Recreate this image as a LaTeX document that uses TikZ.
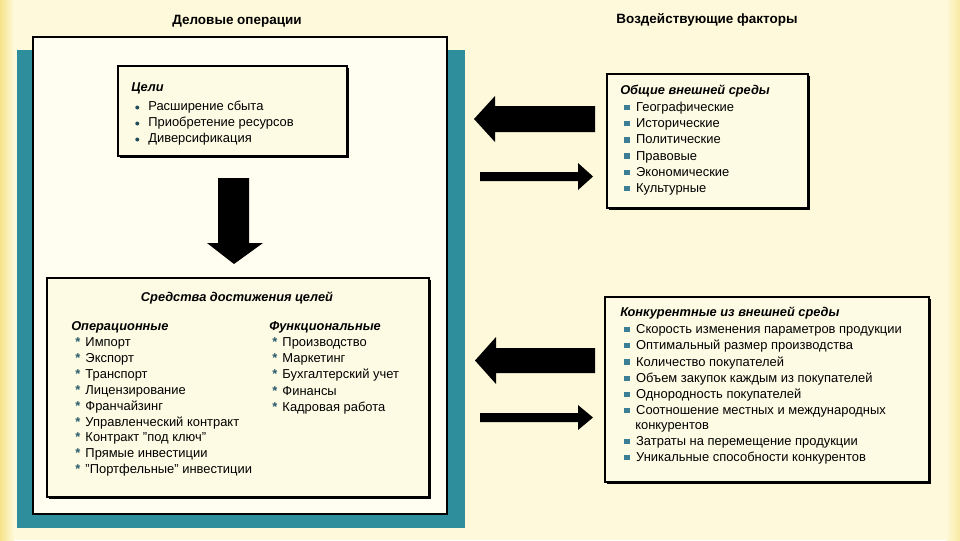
\documentclass[tikz,border=0pt]{standalone}
\usepackage{fontspec}
\setmainfont{Liberation Sans}
\usetikzlibrary{shadows}
\definecolor{bg}{HTML}{FDF9DA}
\definecolor{edgey}{HTML}{F6E48A}
\definecolor{teal1}{HTML}{2F8E9B}
\definecolor{bulc}{HTML}{3B7E96}
\definecolor{paper}{HTML}{FFFEF0}
\definecolor{boxfill}{HTML}{FEFBE4}
\newcommand{\sqb}{\textcolor{bulc}{\rule[0.2ex]{0.42em}{0.42em}}\hspace{0.5em}}
\newcommand{\dtb}{\textcolor{bulc!60!black}{\raisebox{0.15ex}{\tikz\fill (0,0) circle (1.5pt);}}\hspace{0.7em}}
\newcommand{\asb}{\textcolor{bulc!70!black}{\textbf{*}}\hspace{0.4em}}
\begin{document}
\begin{tikzpicture}[x=0.75pt,y=-0.75pt,
  txt/.style={anchor=mid west, inner sep=0pt, font=\fontsize{9.7}{11}\selectfont},
  hdr/.style={anchor=mid west, inner sep=0pt, font=\fontsize{9.6}{11}\selectfont\bfseries\itshape},
  ttl/.style={anchor=mid, inner sep=0pt, font=\fontsize{10.1}{12}\selectfont\bfseries},
  panel/.style={draw=black, line width=1.6pt, fill=boxfill,
    drop shadow={shadow xshift=1.3pt, shadow yshift=-1.3pt, fill=black, opacity=1}},
  blockarrow/.style={fill=black}
]
\useasboundingbox (0,0) rectangle (960,540);
% background
\fill[bg] (0,0) rectangle (960,540);
\shade[left color=edgey, right color=bg] (0,0) rectangle (14,540);
\shade[left color=bg, right color=edgey!70!bg] (946,0) rectangle (960,540);

% titles
\node[ttl] (t1) at (237,21) {Деловые операции};
\node[ttl] (t2) at (707,20) {Воздействующие факторы};

% left frame
\fill[teal1] (17,50) rectangle (465,528);
\draw[fill=paper, line width=0.8pt] (33,37) rectangle (447,514);

% goals box
\draw[panel] (118,66) rectangle (347,156);
\node[hdr] (g0) at (131,88) {Цели};
\node[txt] (g1) at (135,107) {\dtb Расширение сбыта};
\node[txt] (g2) at (135,123) {\dtb Приобретение ресурсов};
\node[txt] (g3) at (135,139) {\dtb Диверсификация};

% down arrow
\fill[blockarrow] (218,178) -- (249,178) -- (249,243) -- (263,243) -- (234,264)
  -- (207,243) -- (218,243) -- cycle;

% means box
\draw[panel] (47,278) rectangle (429,497);
\node[hdr, anchor=mid] (m0) at (237,298) {Средства достижения целей};
\node[hdr] (mo) at (71,327) {Операционные};
\foreach [count=\i] \t in {Импорт,Экспорт,Транспорт,Лицензирование,Франчайзинг,
  Управленческий контракт,Контракт "под ключ",Прямые инвестиции,"Портфельные" инвестиции}
  \node[txt] (mo\i) at (75,{343+15.9*(\i-1)}) {\asb\t};
\node[hdr] (mf) at (269,327) {Функциональные};
\foreach [count=\i] \t in {Производство,Маркетинг,Бухгалтерский учет,Финансы,Кадровая работа}
  \node[txt] (mf\i) at (272,{343+16.2*(\i-1)}) {\asb\t};

% general environment box
\draw[panel] (607,74) rectangle (808,208);
\node[hdr] (e0) at (620,91) {Общие внешней среды};
\foreach [count=\i] \t in {Географические,Исторические,Политические,Правовые,Экономические,Культурные}
  \node[txt] (e\i) at (624,{108+16.2*(\i-1)}) {\sqb\t};

% competitive box
\draw[panel] (605,297) rectangle (929,482);
\node[hdr] (c0) at (620,313) {Конкурентные из внешней среды};
\node[txt] (c1) at (624,330) {\sqb Скорость изменения параметров продукции};
\node[txt] (c2) at (624,346) {\sqb Оптимальный размер производства};
\node[txt] (c3) at (624,362.5) {\sqb Количество покупателей};
\node[txt] (c4) at (624,379) {\sqb Объем закупок каждым из покупателей};
\node[txt] (c5) at (624,395) {\sqb Однородность покупателей};
\node[txt] (c6) at (624,411) {\sqb Соотношение местных и международных};
\node[txt] (c6b) at (635,426) {конкурентов};
\node[txt] (c7) at (624,442) {\sqb Затраты на перемещение продукции};
\node[txt] (c8) at (624,458) {\sqb Уникальные способности конкурентов};

% arrows between columns
\fill[blockarrow] (595,106) -- (495,106) -- (495,96) -- (474,119) -- (495,142)
  -- (495,132) -- (595,132) -- cycle;
\fill[blockarrow] (480,172) -- (578,172) -- (578,163) -- (593,176.5) -- (578,190)
  -- (578,181) -- (480,181) -- cycle;
\fill[blockarrow] (595,348) -- (496,348) -- (496,337) -- (475,360.5) -- (496,384)
  -- (496,373) -- (595,373) -- cycle;
\fill[blockarrow] (480,413) -- (578,413) -- (578,405) -- (593,417.5) -- (578,430)
  -- (578,422) -- (480,422) -- cycle;
\end{tikzpicture}
\end{document}
